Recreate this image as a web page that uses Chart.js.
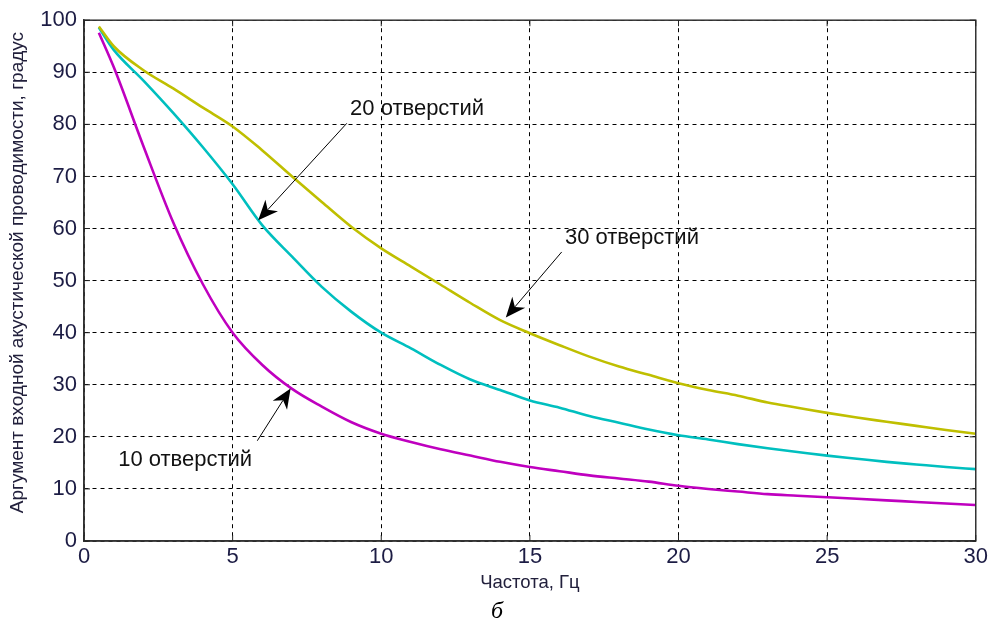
<!DOCTYPE html>
<html>
<head>
<meta charset="utf-8">
<script src="https://cdn.jsdelivr.net/npm/chart.js@4"></script>
<style>
	html, body { margin: 0; padding: 0; background: #fff; }
	#box { width: 991px; height: 627px; position: relative; }
</style>
</head>
<body>
<div id="box"><canvas id="lineChart"></canvas></div>
<script>
// частота, Гц
const freq = [0.5, 1, 2, 3, 4, 5, 6, 7, 8, 9, 10, 11, 12, 13, 14, 15, 16, 17, 18, 19, 20, 21, 22, 23, 24, 25, 26, 27, 28, 29, 30]

// аргумент проводимости, градус
const holes30 = [98.8, 95, 90.4, 86.9, 83.2, 79.6, 75, 70, 65.1, 60.3, 56.2, 52.7, 49.2, 45.7, 42.4, 39.9, 37.6, 35.4, 33.5, 31.9, 30.3, 29, 27.9, 26.6, 25.6, 24.6, 23.7, 22.9, 22.1, 21.3, 20.6]
const holes20 = [98.6, 94.3, 88.4, 82.2, 75.6, 68.5, 60.6, 54.6, 48.8, 44, 40, 37, 33.8, 31, 29, 27, 25.6, 24, 22.7, 21.4, 20.3, 19.5, 18.6, 17.8, 17.1, 16.4, 15.8, 15.2, 14.7, 14.2, 13.8]
const holes10 = [97.6, 91, 75.8, 61.2, 49.3, 40, 33.8, 29.2, 25.8, 22.8, 20.6, 19, 17.6, 16.4, 15.2, 14.2, 13.4, 12.6, 12, 11.4, 10.6, 10, 9.5, 9, 8.7, 8.4, 8.1, 7.8, 7.5, 7.2, 6.9]

const xTicks = [0, 5, 10, 15, 20, 25, 30]
const yTicks = [0, 10, 20, 30, 40, 50, 60, 70, 80, 90, 100]

// подписи: текст, точка текста, начало и конец стрелки (в единицах осей)
const labels = ['20 отверстий', '30 отверстий', '10 отверстий']
const labelPos = [[8.95, 82.9], [16.18, 58.1], [1.15, 15.6]]
const arrowFrom = [[8.84, 80.2], [16.07, 55.5], [5.83, 19.25]]
const arrowTo = [[5.86, 61.6], [14.19, 42.9], [6.95, 29.3]]

const xTitle = 'Частота, Гц'
const yTitle = 'Аргумент входной акустической проводимости, градус'
const subTitle = 'б'

const FONT = '"Liberation Sans", Arial, sans-serif'
const TICK_COLOR = '#1c1c44'

function toPoints(ys) {
	return freq.map((f, i) => ({ x: f, y: ys[i] }))
}

function drawArrow(c, x1, y1, x2, y2) {
	const ang = Math.atan2(y2 - y1, x2 - x1)
	const len = 20, half = 8.5, back = 14
	c.strokeStyle = '#000'
	c.lineWidth = 1
	c.beginPath()
	c.moveTo(x1, y1)
	c.lineTo(x2 - Math.cos(ang) * back, y2 - Math.sin(ang) * back)
	c.stroke()
	const bx = x2 - Math.cos(ang) * len, by = y2 - Math.sin(ang) * len
	const nx = -Math.sin(ang), ny = Math.cos(ang)
	c.fillStyle = '#000'
	c.beginPath()
	c.moveTo(x2, y2)
	c.lineTo(bx + nx * half, by + ny * half)
	c.lineTo(x2 - Math.cos(ang) * back, y2 - Math.sin(ang) * back)
	c.lineTo(bx - nx * half, by - ny * half)
	c.closePath()
	c.fill()
}

const decorPlugin = {
	id: 'decor',
	afterDraw(chart) {
		const c = chart.ctx
		const a = chart.chartArea
		const xs = chart.scales.x, ys = chart.scales.y
		c.save()
		// рамка
		c.strokeStyle = '#333'
		c.lineWidth = 1.5
		c.strokeRect(a.left, a.top, a.right - a.left, a.bottom - a.top)
		// внутренние засечки
		c.strokeStyle = '#222'
		c.lineWidth = 1
		c.beginPath()
		xTicks.forEach(v => {
			const px = xs.getPixelForValue(v)
			c.moveTo(px, a.bottom); c.lineTo(px, a.bottom - 6)
			c.moveTo(px, a.top); c.lineTo(px, a.top + 6)
		})
		yTicks.forEach(v => {
			const py = ys.getPixelForValue(v)
			c.moveTo(a.left, py); c.lineTo(a.left + 6, py)
			c.moveTo(a.right, py); c.lineTo(a.right - 6, py)
		})
		c.stroke()
		// стрелки и подписи
		c.font = '22px ' + FONT
		c.textAlign = 'left'
		c.textBaseline = 'middle'
		labels.forEach((t, i) => {
			drawArrow(c,
				xs.getPixelForValue(arrowFrom[i][0]), ys.getPixelForValue(arrowFrom[i][1]),
				xs.getPixelForValue(arrowTo[i][0]), ys.getPixelForValue(arrowTo[i][1]))
			c.fillStyle = '#111'
			c.fillText(t, xs.getPixelForValue(labelPos[i][0]), ys.getPixelForValue(labelPos[i][1]))
		})
		// подписи осей
		c.fillStyle = '#22203c'
		c.textAlign = 'center'
		c.font = '18.5px ' + FONT
		c.fillText(xTitle, (a.left + a.right) / 2, 583)
		c.save()
		c.font = '19px ' + FONT
		c.translate(18, (a.top + a.bottom) / 2 - 8)
		c.rotate(-Math.PI / 2)
		c.fillText(yTitle, 0, 0)
		c.restore()
		c.fillStyle = '#000'
		c.font = 'italic 24px "Liberation Serif", "Times New Roman", serif'
		c.fillText(subTitle, 497, 612)
		c.restore()
	}
}

const chart = new Chart(document.getElementById('lineChart').getContext('2d'), {
	type: 'line',
	data: {
		datasets: [
			{ label: '30 отверстий', data: toPoints(holes30), borderColor: '#bfbf00' },
			{ label: '20 отверстий', data: toPoints(holes20), borderColor: '#00bfbf' },
			{ label: '10 отверстий', data: toPoints(holes10), borderColor: '#bf00bf' }
		]
	},
	options: {
		responsive: true,
		maintainAspectRatio: false,
		animation: false,
		events: [],
		layout: { padding: { top: 20, right: 15, left: 0, bottom: 0 } },
		elements: {
			line: { borderWidth: 2.6, tension: 0, cubicInterpolationMode: 'monotone', fill: false },
			point: { radius: 0 }
		},
		plugins: {
			legend: { display: false },
			tooltip: { enabled: false }
		},
		scales: {
			x: {
				type: 'linear',
				min: 0,
				max: 30,
				afterFit: s => { s.height = 86 },
				afterBuildTicks: s => { s.ticks = xTicks.map(v => ({ value: v })) },
				ticks: { color: TICK_COLOR, font: { family: FONT, size: 22 }, padding: 3, maxRotation: 0 },
				grid: { color: '#000', lineWidth: 1, drawTicks: false },
				border: { display: true, color: '#333', width: 1.5, dash: [4, 4] }
			},
			y: {
				min: 0,
				max: 100,
				afterFit: s => { s.width = 84 },
				afterBuildTicks: s => { s.ticks = yTicks.map(v => ({ value: v })) },
				ticks: { color: TICK_COLOR, font: { family: FONT, size: 22 }, padding: 7 },
				grid: { color: '#000', lineWidth: 1, drawTicks: false },
				border: { display: true, color: '#333', width: 1.5, dash: [4, 4] }
			}
		}
	},
	plugins: [decorPlugin]
});
</script>
</body>
</html>
